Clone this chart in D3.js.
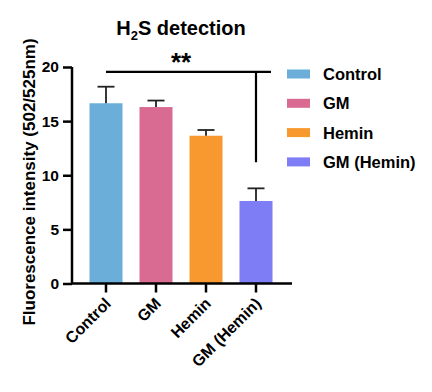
<!DOCTYPE html>
<html><head><meta charset="utf-8">
<script src="https://cdn.jsdelivr.net/npm/d3@7"></script>
<style>body{margin:0;background:#fff}svg{display:block}text{font-family:"Liberation Sans",Arial,sans-serif;font-weight:bold;fill:#000}</style>
</head><body><svg id="c" width="432" height="392"></svg>
<script>
const categories = ["Control","GM","Hemin","GM (Hemin)"];
const values = [16.65, 16.3, 13.65, 7.62];
const errors = [1.53, 0.6, 0.53, 1.17];
const colors = ["#6aaed9","#d96b93","#f8992f","#7e7df6"];
const yTicks = [0,5,10,15,20];

const svg = d3.select("#c");
const x = d3.scaleBand().domain(categories).range([81,281]).paddingInner(0.34).paddingOuter(0.17);
const y = d3.scaleLinear().domain([0,20]).range([283.5,67]);

// bars
svg.selectAll("rect.bar").data(categories).enter().append("rect")
  .attr("x", d=>x(d)).attr("width", x.bandwidth())
  .attr("y", (d,i)=>y(values[i])).attr("height",(d,i)=>y(0)-y(values[i]))
  .attr("fill",(d,i)=>colors[i]);

// error bars
const eg = svg.append("g").attr("stroke","#222").attr("stroke-width",1.8);
categories.forEach((c,i)=>{
  const cx = x(c)+x.bandwidth()/2;
  eg.append("line").attr("x1",cx).attr("x2",cx).attr("y1",y(values[i])).attr("y2",y(values[i]+errors[i]));
  eg.append("line").attr("x1",cx-8.5).attr("x2",cx+8.5).attr("y1",y(values[i]+errors[i])).attr("y2",y(values[i]+errors[i]));
});

// y axis
const ya = svg.append("g").attr("transform","translate(72,0)")
  .call(d3.axisLeft(y).tickValues(yTicks).tickSize(9).tickPadding(4));
ya.select(".domain").attr("stroke","#000").attr("stroke-width",2.5).attr("d",`M0,${y(20)}V${y(0)}`);
ya.selectAll(".tick line").attr("stroke","#000").attr("stroke-width",2.5);
ya.selectAll(".tick text").style("font-size","15.5px").style("font-family","Liberation Sans, Arial").style("font-weight","bold");

// x axis
const xa = svg.append("g").attr("transform",`translate(0,${y(0)})`)
  .call(d3.axisBottom(x).tickSize(9).tickSizeOuter(0));
xa.select(".domain").attr("stroke","#000").attr("stroke-width",2.5).attr("d","M72,0H292");
xa.selectAll(".tick line").attr("stroke","#000").attr("stroke-width",2.5);
xa.selectAll(".tick text").style("font-size","16px").style("font-family","Liberation Sans, Arial").style("font-weight","bold")
  .attr("text-anchor","end").attr("dy",0).attr("y",0)
  .attr("transform","translate(6,21) rotate(-45)");

// significance bracket
const sx1 = x(categories[0])+x.bandwidth()/2, sx2 = x(categories[3])+x.bandwidth()/2;
svg.append("path").attr("fill","none").attr("stroke","#000").attr("stroke-width",2.2)
  .attr("d",`M${sx1},${y(19.55)}H${sx2+15}M${sx2},${y(19.55)}V${y(11.2)}`);
svg.append("text").attr("x",(sx1+sx2)/2).attr("y",71).attr("text-anchor","middle").style("font-size","26px").text("**");

// title
const t = svg.append("text").attr("x",181).attr("y",35).attr("text-anchor","middle").style("font-size","20px");
t.append("tspan").text("H");
t.append("tspan").text("2").style("font-size","13px").attr("dy",5);
t.append("tspan").text("S detection").attr("dy",-5);

// y label
svg.append("text").attr("transform","translate(35,182) rotate(-90)").attr("text-anchor","middle")
  .style("font-size","17px").text("Fluorescence intensity (502/525nm)");

// legend
const lg = svg.append("g");
categories.forEach((c,i)=>{
  const yy = 74 + i*29.3;
  lg.append("rect").attr("x",287).attr("y",yy-4.5).attr("width",23).attr("height",9).attr("fill",colors[i]);
  lg.append("text").attr("x",323).attr("y",yy+6).style("font-size","16.5px").text(c);
});
</script></body></html>
